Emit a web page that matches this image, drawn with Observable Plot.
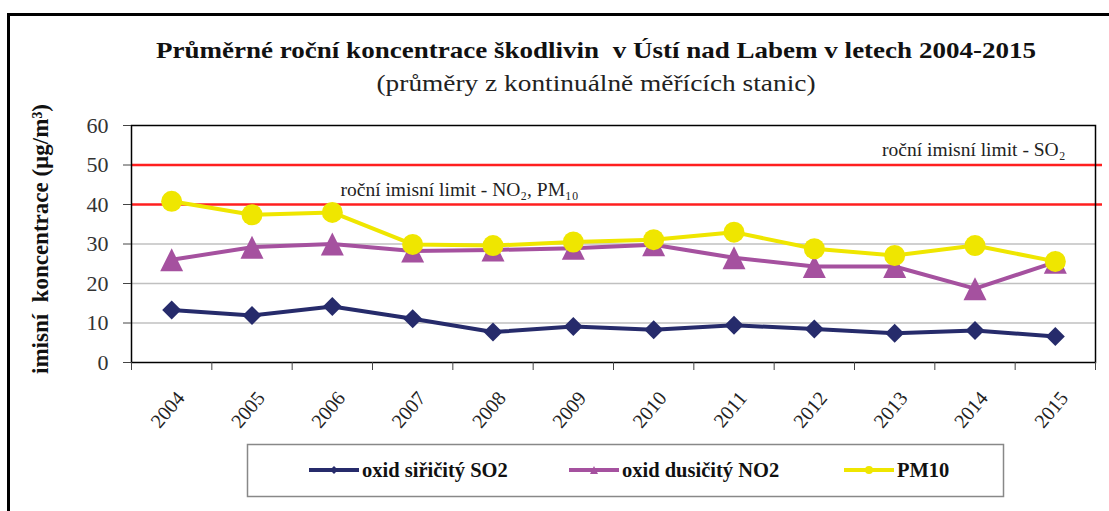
<!DOCTYPE html>
<html><head><meta charset="utf-8">
<script src="https://cdn.jsdelivr.net/npm/d3@7"></script>
<script src="https://cdn.jsdelivr.net/npm/@observablehq/plot@0.6"></script>
<style>
body{margin:0;background:#fff;font-family:"Liberation Serif","Times New Roman","DejaVu Serif",serif;}
#wrap{position:relative;width:1109px;height:511px;overflow:hidden;background:#fff;}
#border{position:absolute;left:7px;top:13px;width:1130px;height:530px;border:3px solid #000;box-sizing:border-box;}
#wrap svg{position:absolute;left:0;top:0;}
#wrap svg text{font-family:"Liberation Serif","Times New Roman","DejaVu Serif",serif;}
</style>
</head><body>
<div id="wrap"><div id="border"></div></div>
<script>
// ---- data ----
const years = [2004, 2005, 2006, 2007, 2008, 2009, 2010, 2011, 2012, 2013, 2014, 2015];
const so2  = [13.3, 11.9, 14.2, 11.1, 7.7, 9.1, 8.3, 9.4, 8.5, 7.4, 8.1, 6.6];
const no2  = [26.0, 29.2, 30.0, 28.2, 28.5, 28.9, 29.8, 26.5, 24.3, 24.3, 18.7, 25.4];
const pm10 = [40.8, 37.4, 38.0, 29.9, 29.6, 30.5, 31.1, 33.0, 28.8, 27.1, 29.6, 25.6];
const seriesNames = ["oxid siřičitý SO2", "oxid dusičitý NO2", "PM10"];
const seriesColors = ["#262b6b", "#a5519f", "#efe600"];
const yTicks = [0, 10, 20, 30, 40, 50, 60];
const gridValues = [10, 20, 30];
const limitValues = [50, 40];
const limitLabels = ["roční imisní limit - SO₂", "roční imisní limit - NO₂, PM₁₀"];
const titleText = "Průměrné roční koncentrace škodlivin  v Ústí nad Labem v letech 2004-2015";
const subtitleText = "(průměry z kontinuálně měřících stanic)";
const yLabel = "imisní\u00A0 koncentrace (µg/m³)";

// ---- symbols ----
const diamondSym = {draw(ctx, size){const r=Math.sqrt(size/Math.PI);ctx.moveTo(0,-r);ctx.lineTo(r,0);ctx.lineTo(0,r);ctx.lineTo(-r,0);ctx.closePath();}};
const triSym = {draw(ctx, size){const r=Math.sqrt(size/Math.PI);ctx.moveTo(0,-r);ctx.lineTo(r,r);ctx.lineTo(-r,r);ctx.closePath();}};
const circSym = {draw(ctx, size){const r=Math.sqrt(size/Math.PI);ctx.moveTo(r,0);ctx.arc(0,0,r,0,2*Math.PI);}};
const symbols = [diamondSym, triSym, circSym];
const radii = [9.5, 11.5, 10.5];

const rows = vals => years.map((year, i) => ({year, value: vals[i]}));
const seriesData = [so2, no2, pm10].map(rows);
const boundaries = years.map(y => y - 0.5).concat([years[years.length - 1] + 0.5]);
const limits = limitValues.map((v, i) => ({value: v, label: limitLabels[i]}));

const seriesMarks = [];
seriesData.forEach((d, i) => {
  seriesMarks.push(Plot.line(d, {x: "year", y: "value", stroke: seriesColors[i], strokeWidth: 4}));
  seriesMarks.push(Plot.dot(d, {x: "year", y: "value", symbol: symbols[i], r: radii[i], fill: seriesColors[i], stroke: "none"}));
});

const serif = '"Liberation Serif","Times New Roman","DejaVu Serif",serif';
const chart = Plot.plot({
  width: 1109, height: 511,
  marginLeft: 131, marginRight: 14, marginTop: 125, marginBottom: 149,
  x: {domain: [years[0] - 0.5, years[years.length - 1] + 0.5]},
  y: {domain: [0, 60]},
  style: {fontFamily: serif, background: "transparent"},
  marks: [
    Plot.ruleY(gridValues, {stroke: "#c0c0c0", strokeWidth: 1.5}),
    Plot.ruleY(limits, {y: "value", stroke: "#ff1f1f", strokeWidth: 2.5, insetRight: -7}),
    Plot.text([limits[0]], {y: "value", text: "label", frameAnchor: "right", textAnchor: "end", lineAnchor: "bottom", dx: -30, dy: -9, fontSize: 19.5, fill: "#222"}),
    Plot.text([limits[1]], {y: "value", text: "label", frameAnchor: "left", textAnchor: "start", lineAnchor: "bottom", dx: 209, dy: -9, fontSize: 19.5, fill: "#222"}),
    Plot.frame({stroke: "#000", strokeWidth: 1.5}),
    Plot.axisY(yTicks, {tickSize: 8, tickPadding: 15, fontSize: 22, fill: "#333", stroke: "#444", label: null}),
    Plot.axisX(boundaries, {tickSize: 8, tickFormat: () => "", stroke: "#444", label: null}),
    Plot.axisX(years, {tickSize: 0, tickRotate: -50, tickPadding: 32, dx: 9, fontSize: 20, fill: "#222", tickFormat: d => String(d), label: null}),
    Plot.text([yLabel], {frameAnchor: "left", textAnchor: "middle", rotate: -90, dx: -91, dy: -5, fontSize: 23, fontWeight: "bold", fill: "#111"}),
    ...seriesMarks
  ]
});
const wrap = document.getElementById("wrap");
wrap.appendChild(chart);

// ---- title + legend overlay ----
const ov = d3.select(wrap).append("svg").attr("width", 1109).attr("height", 511)
  .style("pointer-events", "none");
ov.append("text").attr("x", 596).attr("y", 58).attr("text-anchor", "middle")
  .attr("font-size", 24).attr("font-weight", "bold").attr("fill", "#111")
  .attr("textLength", 880).attr("lengthAdjust", "spacingAndGlyphs")
  .attr("xml:space", "preserve").text(titleText);
ov.append("text").attr("x", 596).attr("y", 91).attr("text-anchor", "middle")
  .attr("font-size", 24).attr("fill", "#222")
  .attr("textLength", 439).attr("lengthAdjust", "spacingAndGlyphs").text(subtitleText);

const lg = ov.append("g");
lg.append("rect").attr("x", 247.5).attr("y", 444.5).attr("width", 756).attr("height", 52)
  .attr("fill", "#fff").attr("stroke", "#888").attr("stroke-width", 1.5);
const lx = [309, 569, 844];
seriesNames.forEach((name, i) => {
  const g = lg.append("g").attr("transform", `translate(${lx[i]},470)`);
  g.append("line").attr("x1", 0).attr("x2", 50).attr("stroke", seriesColors[i]).attr("stroke-width", 4);
  g.append("path").attr("transform", "translate(25,0)").attr("d", d3.symbol(symbols[i], Math.PI * 16)()).attr("fill", seriesColors[i]);
  g.append("text").attr("x", 53).attr("y", 7).attr("font-size", 20.5).attr("font-weight", "bold").attr("fill", "#111").text(name);
});
</script>
</body></html>
